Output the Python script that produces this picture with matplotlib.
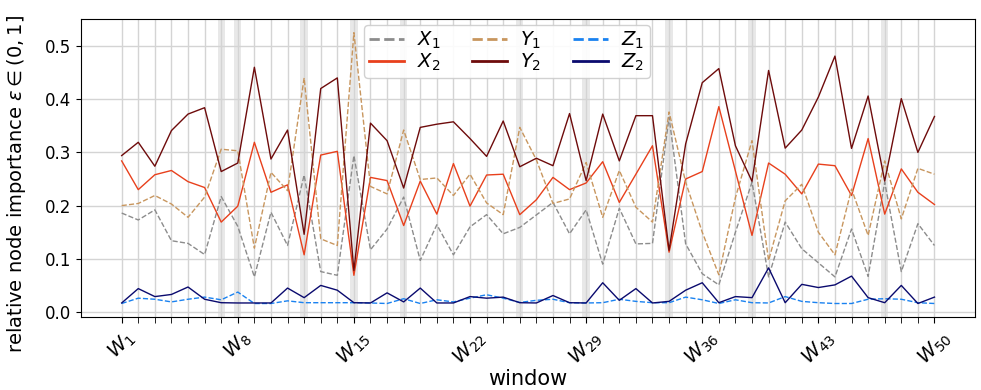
import matplotlib
matplotlib.use('Agg')
import matplotlib.pyplot as plt

plt.rcParams['font.family'] = ['DejaVu Sans']

windows = list(range(1, 51))

x1 = [0.186, 0.173, 0.192, 0.134, 0.129, 0.108, 0.217, 0.161, 0.066, 0.1875,
      0.125, 0.2575, 0.076, 0.069, 0.294, 0.117, 0.156, 0.216, 0.097, 0.164,
      0.1075, 0.16, 0.183, 0.147, 0.159, 0.1825, 0.206, 0.147, 0.192, 0.09,
      0.195, 0.128, 0.129, 0.366, 0.128, 0.072, 0.051, 0.15, 0.244, 0.066,
      0.169, 0.119, 0.0925, 0.066, 0.156, 0.067, 0.244, 0.076, 0.166, 0.125]
x2 = [0.284, 0.23, 0.258, 0.266, 0.245, 0.234, 0.169, 0.199, 0.319, 0.225,
      0.239, 0.1075, 0.295, 0.302, 0.069, 0.253, 0.247, 0.1625, 0.246, 0.184,
      0.279, 0.199, 0.2575, 0.259, 0.183, 0.211, 0.253, 0.23, 0.2425, 0.2825,
      0.206, 0.259, 0.3125, 0.1125, 0.25, 0.264, 0.386, 0.265, 0.144, 0.28,
      0.259, 0.222, 0.278, 0.275, 0.219, 0.326, 0.184, 0.269, 0.225, 0.202]
y1 = [0.2, 0.204, 0.219, 0.203, 0.178, 0.216, 0.306, 0.303, 0.12, 0.2625,
      0.228, 0.44, 0.1375, 0.125, 0.525, 0.236, 0.222, 0.342, 0.249, 0.252,
      0.219, 0.259, 0.205, 0.183, 0.347, 0.286, 0.204, 0.2125, 0.281, 0.178,
      0.266, 0.197, 0.169, 0.376, 0.244, 0.15, 0.07, 0.215, 0.322, 0.097,
      0.209, 0.24, 0.15, 0.1075, 0.231, 0.144, 0.284, 0.175, 0.27, 0.259]
y2 = [0.294, 0.319, 0.274, 0.341, 0.372, 0.384, 0.264, 0.28, 0.46, 0.2875,
      0.342, 0.146, 0.42, 0.44, 0.078, 0.355, 0.322, 0.233, 0.347, 0.353,
      0.3575, 0.326, 0.2925, 0.359, 0.273, 0.289, 0.275, 0.373, 0.247, 0.372,
      0.284, 0.369, 0.369, 0.116, 0.316, 0.431, 0.4575, 0.3125, 0.2456, 0.454,
      0.308, 0.342, 0.404, 0.481, 0.3075, 0.406, 0.246, 0.401, 0.3, 0.3675]
z1 = [0.016, 0.026, 0.024, 0.019, 0.024, 0.028, 0.023, 0.0375, 0.016, 0.016,
      0.021, 0.0175, 0.0175, 0.0175, 0.0175, 0.017, 0.016, 0.025, 0.016, 0.023,
      0.019, 0.026, 0.0325, 0.026, 0.018, 0.022, 0.024, 0.0175, 0.017, 0.0175,
      0.024, 0.02, 0.0175, 0.0175, 0.028, 0.023, 0.016, 0.023, 0.0175, 0.017,
      0.029, 0.02, 0.0175, 0.016, 0.016, 0.024, 0.025, 0.024, 0.0175, 0.016]
z2 = [0.017, 0.044, 0.029, 0.033, 0.047, 0.024, 0.0175, 0.017, 0.017, 0.017,
      0.045, 0.027, 0.05, 0.041, 0.0175, 0.017, 0.036, 0.019, 0.045, 0.017,
      0.017, 0.029, 0.026, 0.028, 0.0175, 0.017, 0.031, 0.0175, 0.017, 0.055,
      0.022, 0.044, 0.017, 0.02, 0.041, 0.055, 0.0175, 0.029, 0.027, 0.083,
      0.0175, 0.052, 0.046, 0.051, 0.0675, 0.027, 0.0175, 0.05, 0.016, 0.028]

highlighted = [7, 8, 12, 15, 18, 25, 29, 34, 39, 47]
tick_windows = [1, 8, 15, 22, 29, 36, 43, 50]
tick_labels = [r'$W_{%d}$' % w for w in tick_windows]

fig = plt.figure(figsize=(9.81, 3.9), dpi=100)
ax = fig.add_axes([0.0826, 0.187, 0.9114, 0.764])

for w in highlighted:
    ax.axvspan(w - 0.22, w + 0.22, color='#d9d9d9', alpha=0.6, lw=0, zorder=0)

series = [
    (x1, r'$X_1$', '#8c8c8c', '--'),
    (x2, r'$X_2$', '#e8401c', '-'),
    (y1, r'$Y_1$', '#c8965e', '--'),
    (y2, r'$Y_2$', '#6e0b0b', '-'),
    (z1, r'$Z_1$', '#1a82f0', '--'),
    (z2, r'$Z_2$', '#0a0a6e', '-'),
]
for vals, lab, col, ls in series:
    ax.plot(windows, vals, ls, color=col, lw=1.0, label=lab, zorder=3)

ax.set_xticks(windows, minor=True)
ax.set_xticks(tick_windows)
ax.set_xticklabels(tick_labels, rotation=45, fontsize=14)
ax.tick_params(axis='x', which='both', length=4)
ax.tick_params(axis='y', labelsize=12)
ax.set_yticks([0.0, 0.1, 0.2, 0.3, 0.4, 0.5])
ax.set_ylim(-0.0095, 0.5505)
ax.grid(which='both', axis='x', color='#d4d4d4', lw=1.0, zorder=0)
ax.grid(which='major', axis='y', color='#d4d4d4', lw=1.0, zorder=0)
ax.set_axisbelow(True)

ax.set_xlabel('window', fontsize=15, labelpad=0)
ax.set_ylabel(r'relative node importance $\varepsilon \in (0,1]$', fontsize=14)
ax.yaxis.set_label_coords(-0.059, 0.448)

leg = ax.legend(ncol=3, loc='upper center', bbox_to_anchor=(0.476, 1.0),
                fontsize=14, handlelength=1.8, handletextpad=0.7,
                columnspacing=1.6, labelspacing=0.05, borderpad=0.25,
                borderaxespad=0.3, framealpha=0.9)
for h in leg.get_lines():
    h.set_linewidth(2.0)

fig.savefig('out.png', dpi=100)
